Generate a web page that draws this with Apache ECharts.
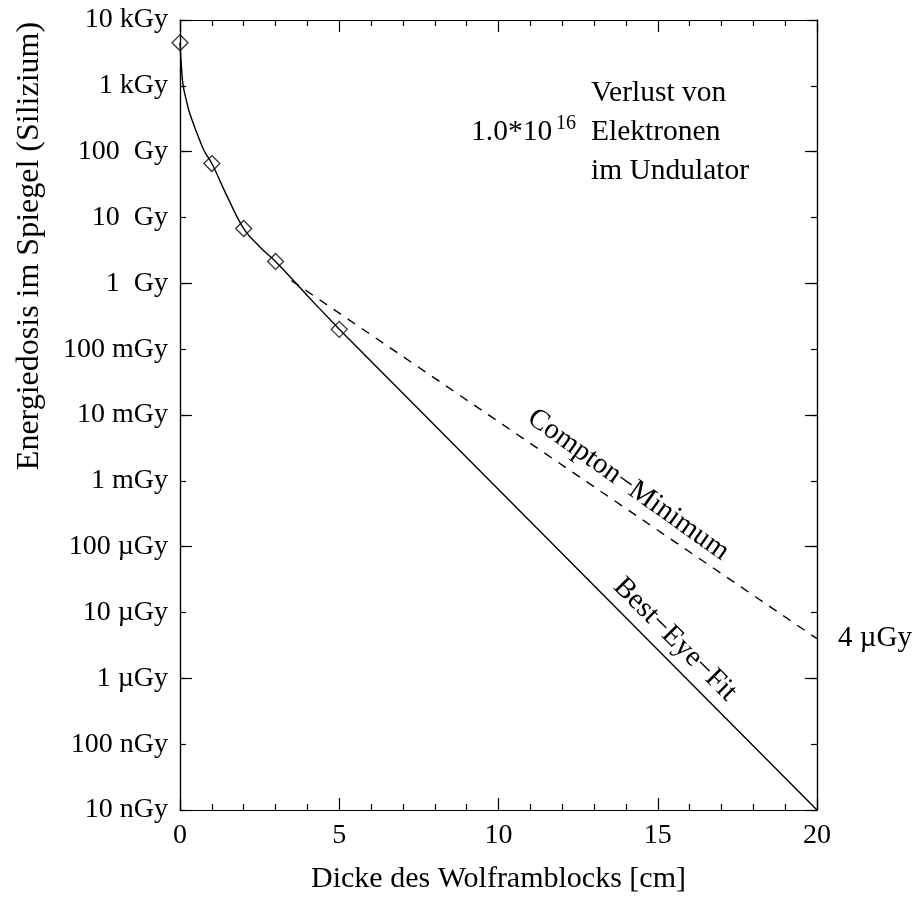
<!DOCTYPE html>
<html>
<head>
<meta charset="utf-8">
<script src="https://cdn.jsdelivr.net/npm/echarts@6/dist/echarts.min.js"></script>
<style>
  html, body { margin: 0; padding: 0; background: #fff; }
  #main { width: 914px; height: 899px; }
</style>
</head>
<body>
<div id="main"></div>
<script>
// Messpunkte (Dicke in cm, Dosis in Gy)
var thickness = [0, 1, 2, 3, 5];
var measuredDose = [4500, 66, 6.8, 2.15, 0.2];

// Best-Eye-Fit: gekruemmter Teil bis 5 cm, danach Gerade bis 20 cm
var fitThickness = [0, 0.05, 0.1, 0.2, 0.3, 0.5, 0.75, 1, 1.5, 2, 2.5, 3, 4, 5];
var fitDose = [4500, 1800, 1000, 600, 390, 210, 105, 66, 20, 6.8, 3.6, 2.15, 0.65, 0.2];
var fitTailThickness = [5, 20];
var fitTailDose = [0.2, 1e-8];

// Compton-Minimum
var comptonThickness = [3.5, 20];
var comptonDose = [1.1, 4e-6];

// Achsenbeschriftung, Exponent -8 .. 4
var doseTickLabels = ['10 nGy', '100 nGy', '1 µGy', '10 µGy', '100 µGy', '1 mGy', '10 mGy',
  '100 mGy', '1  Gy', '10  Gy', '100  Gy', '1 kGy', '10 kGy'];
var xTickLabels = ['0', '5', '10', '15', '20'];

var FONT = '"Liberation Serif", "DejaVu Serif", serif';

function toLog(xs, ys) {
    return xs.map(function (x, i) { return [x, Math.log10(ys[i])]; });
}

var myChart = echarts.init(document.getElementById('main'));

// y-Achsen: kurze Ticks jede Dekade, lange Ticks jede zweite Dekade
function yAx(pos, step, len, labels) {
    return {
        type: 'value', position: pos, min: -8, max: 4, interval: step,
        axisLine: { show: true, onZero: false, lineStyle: { color: '#000', width: 1.2 } },
        axisTick: { show: true, inside: true, length: len, lineStyle: { color: '#000', width: 1.2 } },
        axisLabel: labels ? {
            show: true, margin: 12, fontSize: 28, fontFamily: FONT, color: '#000',
            formatter: function (v) { return doseTickLabels[Math.round(v) + 8]; }
        } : { show: false },
        splitLine: { show: false }
    };
}
function xAx(pos, labels) {
    return {
        type: 'value', position: pos, min: 0, max: 20, interval: 5,
        axisLine: { show: true, onZero: false, lineStyle: { color: '#000', width: 1.2 } },
        axisTick: { show: true, inside: true, length: 12, lineStyle: { color: '#000', width: 1.2 } },
        minorTick: { show: true, splitNumber: 5, length: 6, lineStyle: { color: '#000', width: 1.2 } },
        axisLabel: labels ? {
            show: true, margin: 12, fontSize: 28, fontFamily: FONT, color: '#000',
            formatter: function (v) { return xTickLabels[Math.round(v / 5)]; }
        } : { show: false },
        splitLine: { show: false },
        minorSplitLine: { show: false }
    };
}

var bottomAxis = xAx('bottom', true);
bottomAxis.name = 'Dicke des Wolframblocks [cm]';
bottomAxis.nameLocation = 'middle';
bottomAxis.nameGap = 54;
bottomAxis.nameTextStyle = { fontSize: 30, fontFamily: FONT, color: '#000' };

var lineBlack = { color: '#000', width: 1.4 };

var option = {
    animation: false,
    backgroundColor: '#fff',
    textStyle: { fontFamily: FONT, color: '#000' },
    grid: { left: 180, top: 20, right: 97, bottom: 87, containLabel: false },
    xAxis: [bottomAxis, xAx('top', false)],
    yAxis: [yAx('left', 1, 6, true), yAx('left', 2, 12, false),
            yAx('right', 1, 6, false), yAx('right', 2, 12, false)],
    series: [
        {
            name: 'Best-Eye-Fit', type: 'line', data: toLog(fitThickness, fitDose),
            smooth: 0.4, showSymbol: false, lineStyle: lineBlack
        },
        {
            name: 'Best-Eye-Fit Gerade', type: 'line', data: toLog(fitTailThickness, fitTailDose),
            showSymbol: false, lineStyle: lineBlack
        },
        {
            name: 'Compton-Minimum', type: 'line', data: toLog(comptonThickness, comptonDose),
            showSymbol: false,
            lineStyle: { color: '#000', width: 1.4, type: [9, 8] }
        },
        {
            name: 'Messung', type: 'scatter', data: toLog(thickness, measuredDose),
            symbol: 'diamond', symbolSize: 16,
            itemStyle: { color: 'rgba(0,0,0,0)', borderColor: '#000', borderWidth: 1.3 }
        }
    ]
};
myChart.setOption(option);

// Beschriftungen im Diagramm
function px(x, dose) {
    return myChart.convertToPixel({ gridIndex: 0 }, [x, Math.log10(dose)]);
}
var pC = px(14.07, 8.7e-4);
var pB = px(15.54, 3.9e-6);
var p4 = px(20, 4e-6);
var txt = function (s, size, extra) {
    return Object.assign({ text: s, font: size + 'px ' + FONT, fill: '#000',
        align: 'left', verticalAlign: 'middle' }, extra || {});
};

myChart.setOption({
    graphic: [
        { type: 'text', x: 30, y: 246, rotation: Math.PI / 2,
          style: txt('Energiedosis im Spiegel (Silizium)', 32, { align: 'center' }) },
        { type: 'text', x: 591, y: 93, style: txt('Verlust von', 29.5) },
        { type: 'text', x: 591, y: 132, style: txt('Elektronen', 29.5) },
        { type: 'text', x: 591, y: 171, style: txt('im Undulator', 29.5) },
        { type: 'text', x: 471, y: 132, style: txt('1.0*10', 29.5) },
        { type: 'text', x: 556, y: 124, style: txt('16', 20) },
        { type: 'text', x: pC[0], y: pC[1], rotation: -35.5 * Math.PI / 180,
          style: txt('Compton−Minimum', 29, { align: 'center' }) },
        { type: 'text', x: pB[0], y: pB[1], rotation: -45 * Math.PI / 180,
          style: txt('Best−Eye−Fit', 29, { align: 'center' }) },
        { type: 'text', x: p4[0] + 21, y: p4[1], style: txt('4 µGy', 29) }
    ]
});
</script>
</body>
</html>
